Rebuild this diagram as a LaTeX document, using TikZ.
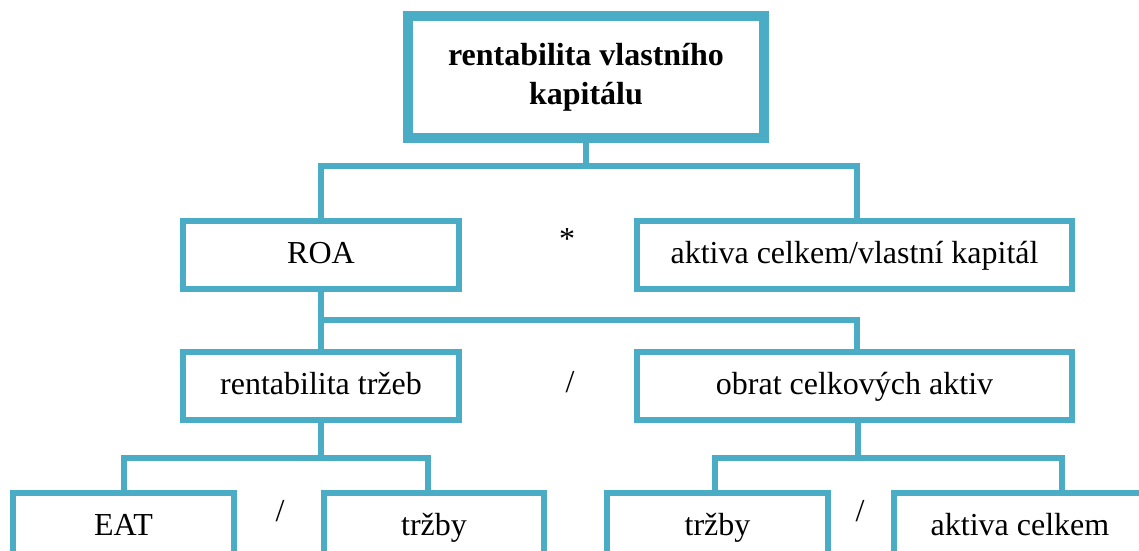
\documentclass[tikz,border=0pt]{standalone}
\usepackage{fontspec}
\setmainfont{Liberation Serif}
\definecolor{acc}{RGB}{75,172,198}
\begin{document}
\begin{tikzpicture}[x=1pt,y=-1pt,
  box/.style={draw=acc, line width=6pt, inner sep=0pt, minimum height=68pt, fill=white,
    font=\fontsize{32}{39}\selectfont, text height=23pt, text depth=7pt},
  topbox/.style={draw=acc, line width=8pt, inner sep=0pt, minimum width=358pt, minimum height=124pt,
    align=center, font=\bfseries\fontsize{32}{39}\selectfont},
  innerline/.style={draw=acc, line width=2.5pt},
  conn/.style={draw=acc, line width=6pt, line join=miter},
  op/.style={anchor=base, inner sep=0pt, font=\fontsize{32}{39}\selectfont}]
\useasboundingbox (0,0) rectangle (1139,550);
\clip (0,0) rectangle (1139,550);
\fill[white] (0,0) rectangle (1139,550);

% nodes
\node[topbox] (top) at (586,77) {rentabilita vlastního\\kapitálu};
\draw[innerline] ([shift={(8.5,8.5)}]top.north west) rectangle ([shift={(-8.5,-8.5)}]top.south east);

\node[box, minimum width=276pt] (roa) at (321,255) {ROA};
\node[box, minimum width=435pt] (akvk) at (854.5,255) {aktiva celkem/vlastní kapitál};
\node[box, minimum width=276pt] (rt) at (321,386) {rentabilita tržeb};
\node[box, minimum width=435pt] (oca) at (854.5,386) {obrat celkových aktiv};
\node[box, minimum width=221pt] (eat) at (123.5,527) {EAT};
\node[box, minimum width=220pt] (trz1) at (434,527) {tržby};
\node[box, minimum width=221pt] (trz2) at (717.5,527) {tržby};
\node[box, minimum width=252pt] (ac) at (1020,527) {aktiva celkem};

% operators
\node[op] (o1) at (567,249) {*};
\node[op] (o2) at (570,392) {/};
\node[op] (o3) at (280,521) {/};
\node[op] (o4) at (860,521) {/};

% junction levels
\coordinate (h1) at (0,165.5);
\coordinate (h2) at (0,319.5);
\coordinate (h3) at (0,457.5);

% level 1
\coordinate (a1) at ([xshift=2.5pt]akvk.north);
\draw[conn] (top.south) -- (top.south |- h1);
\draw[conn] (roa.north) |- (a1 |- h1) -- (a1);

% level 2
\coordinate (a2) at ([xshift=2.5pt]oca.north);
\draw[conn] (roa.south) -- (rt.north);
\draw[conn] (roa.south |- h2) -| (a2);

% level 3 left
\coordinate (v1) at ([xshift=-6pt]trz1.north);
\draw[conn] (rt.south) -- (rt.south |- h3);
\draw[conn] (eat.north) |- (v1 |- h3) -- (v1);

% level 3 right
\coordinate (v0) at ([xshift=3.5pt]oca.south);
\coordinate (v2) at ([xshift=-2.5pt]trz2.north);
\coordinate (v3) at ([xshift=42pt]ac.north);
\draw[conn] (v0) -- (v0 |- h3);
\draw[conn] (v2) |- (v3 |- h3) -- (v3);
\end{tikzpicture}
\end{document}
